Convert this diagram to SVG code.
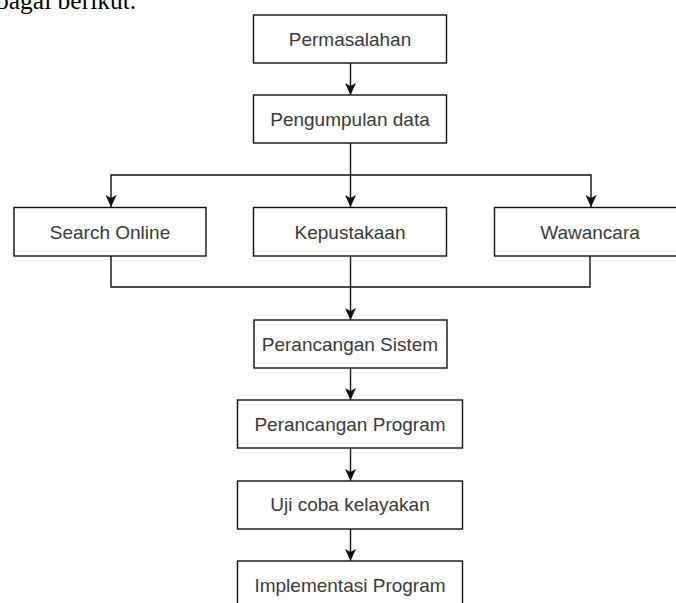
<svg xmlns="http://www.w3.org/2000/svg" width="676" height="603" viewBox="0 0 676 603">
<style>
.box{fill:#fff;stroke:#111;stroke-width:1.4}
.lbl{font-family:"Liberation Sans",Arial,sans-serif;font-size:19px;fill:#3a3a3a;text-anchor:middle}
.ln{fill:none;stroke:#111;stroke-width:1.4}
.hdr{font-family:"Liberation Serif","Times New Roman",serif;font-size:25.5px;fill:#000}
</style>
<defs>
<marker id="ah" viewBox="0 0 12 12" refX="12" refY="6" markerWidth="12" markerHeight="12" markerUnits="userSpaceOnUse" orient="auto">
<path d="M0,0.5 L12,6 L0,11.5 L3,6 Z" fill="#111"/>
</marker>
</defs>
<rect width="676" height="603" fill="#fff"/>
<text class="hdr" x="-4" y="8.5">bagai berikut.</text>
<g id="connectors">
<path class="ln" d="M350.5,63 V95" marker-end="url(#ah)"/>
<path class="ln" d="M350.5,143 V207" marker-end="url(#ah)"/>
<path class="ln" d="M350.5,175 H111 V207" marker-end="url(#ah)"/>
<path class="ln" d="M350.5,175 H591 V207" marker-end="url(#ah)"/>
<path class="ln" d="M111,256 V287 H590 V256"/>
<path class="ln" d="M350.5,256 V320" marker-end="url(#ah)"/>
<path class="ln" d="M350.5,368 V400" marker-end="url(#ah)"/>
<path class="ln" d="M350.5,448 V481" marker-end="url(#ah)"/>
<path class="ln" d="M350.5,529 V561" marker-end="url(#ah)"/>
</g>
<g id="n1"><rect class="box" x="253.5" y="15" width="193" height="48"/><text class="lbl" x="350" y="46">Permasalahan</text></g>
<g id="n2"><rect class="box" x="253.5" y="95" width="193" height="48"/><text class="lbl" x="350" y="126">Pengumpulan data</text></g>
<g id="n3"><rect class="box" x="14" y="207.5" width="192" height="48.5"/><text class="lbl" x="110" y="239">Search Online</text></g>
<g id="n4"><rect class="box" x="253.5" y="207.5" width="193" height="48.5"/><text class="lbl" x="350" y="239">Kepustakaan</text></g>
<g id="n5"><rect class="box" x="494.5" y="207.5" width="193" height="48.5"/><text class="lbl" x="590" y="239">Wawancara</text></g>
<g id="n6"><rect class="box" x="254" y="320" width="193" height="48"/><text class="lbl" x="350" y="351">Perancangan Sistem</text></g>
<g id="n7"><rect class="box" x="237.5" y="400" width="225" height="48"/><text class="lbl" x="350" y="431">Perancangan Program</text></g>
<g id="n8"><rect class="box" x="237.5" y="481" width="225" height="48"/><text class="lbl" x="350" y="511">Uji coba kelayakan</text></g>
<g id="n9"><rect class="box" x="237.5" y="561" width="225" height="48"/><text class="lbl" x="350" y="592">Implementasi Program</text></g>
</svg>
